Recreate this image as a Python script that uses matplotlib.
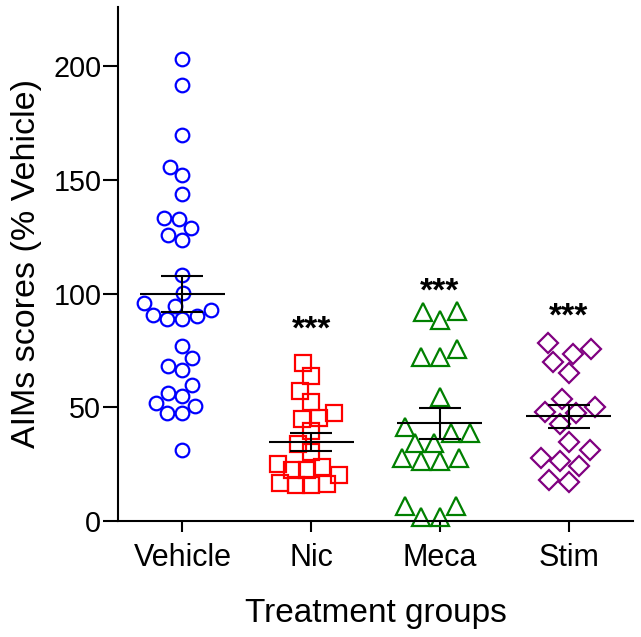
import numpy as np
import matplotlib
matplotlib.use("Agg")
import matplotlib.pyplot as plt

plt.rcParams['font.family'] = ['Liberation Sans', 'DejaVu Sans']

# values (AIMs scores, % of vehicle)
groups = ['Vehicle', 'Nic', 'Meca', 'Stim']
vehicle = [203.1, 191.6, 169.7, 155.7, 152.1, 143.6, 133.0, 133.3, 128.9, 125.7,
           123.5, 108.1, 100.1, 95.7, 94.5, 92.7, 90.1, 88.7, 88.7, 90.5,
           76.9, 71.5, 68.1, 66.4, 59.8, 56.1, 54.9, 51.7, 50.5, 47.6, 47.3, 31.2]
nic = [69.6, 63.7, 57.1, 52.4, 47.3, 45.0, 45.4, 39.6, 33.8, 30.5,
       25.1, 22.4, 23.9, 22.4, 20.2, 16.5, 15.8, 15.8, 16.2]
meca = [92.0, 88.4, 92.3, 72.0, 72.0, 75.5, 54.4, 41.5, 38.5, 38.5,
        34.4, 34.4, 27.6, 26.4, 26.4, 27.6, 6.6, 1.9, 1.9, 6.6]
stim = [75.5, 78.1, 73.3, 69.8, 64.9, 53.5, 50.0, 47.6, 48.1, 42.6,
        34.9, 31.2, 27.6, 26.4, 24.2, 18.0, 17.0]
data = [vehicle, nic, meca, stim]
signif = ['', '***', '***', '***']

# styling
colors = ['#0000ff', '#ff0000', '#008000', '#800080']
markers = ['o', 's', '^', 'D']
msizes = [9.8, 11.0, 13.5, 10.2]
spacing_px = [15.0, 15.5, 19.0, 19.5]
star_base = [None, 80.0, 97.0, 86.0]


def swarm_offsets(ax, x0, values, d):
    """Greedy beeswarm: offsets (data units) so markers keep d pixels apart"""
    pts = ax.transData.transform(np.column_stack([np.full(len(values), x0), values]))
    ys = pts[:, 1]
    px_per_unit = (ax.transData.transform([[1, 0]]) - ax.transData.transform([[0, 0]]))[0, 0]
    placed = []
    offs = np.zeros(len(values))
    for i in np.argsort(ys):
        y = ys[i]
        cands = [0.0]
        for px, py in placed:
            dy = abs(y - py)
            if dy < d:
                dx = np.sqrt(d ** 2 - dy ** 2)
                cands += [px - dx, px + dx]
        cands.sort(key=abs)
        for c in cands:
            if all((c - px) ** 2 + (y - py) ** 2 >= d ** 2 - 1e-6 for px, py in placed):
                break
        placed.append((c, y))
        offs[i] = c
    return offs / px_per_unit


fig = plt.figure(figsize=(6.41, 6.37), dpi=100)
ax = fig.add_axes([118 / 641, 116 / 637, 515 / 641, 514 / 637])
ax.set_xlim(0.5, 4.5)
ax.set_ylim(0, 226)

for i, vals in enumerate(data):
    x0 = i + 1
    vals = np.array(vals)
    xs = x0 + swarm_offsets(ax, x0, vals, spacing_px[i])
    ax.plot(xs, vals, linestyle='none', marker=markers[i], markersize=msizes[i],
            markerfacecolor='none', markeredgecolor=colors[i], markeredgewidth=1.6,
            zorder=2, clip_on=False)
    mean = vals.mean()
    sem = vals.std(ddof=1) / np.sqrt(len(vals))
    ax.hlines(mean, x0 - 0.33, x0 + 0.33, color='black', lw=1.5, zorder=3)
    ax.errorbar(x0, mean, yerr=sem, fmt='none', ecolor='black', elinewidth=1.5,
                capsize=15, capthick=1.5, zorder=3)
    if signif[i]:
        ax.text(x0, star_base[i], signif[i], ha='center', va='baseline',
                fontsize=24, fontweight='bold')

ax.spines['top'].set_visible(False)
ax.spines['right'].set_visible(False)
ax.spines['left'].set_linewidth(1.5)
ax.spines['bottom'].set_linewidth(1.5)

ax.set_yticks([0, 50, 100, 150, 200])
ax.set_xticks([1, 2, 3, 4])
ax.set_xticklabels(groups, fontsize=22)
ax.tick_params(axis='y', labelsize=20.7, length=11, width=1.5, pad=1)
ax.tick_params(axis='x', length=8, width=1.5, pad=8)

ax.set_ylabel('AIMs scores (% Vehicle)', fontsize=24.5, labelpad=8)
ax.set_xlabel('Treatment groups', fontsize=24, labelpad=18)

fig.savefig('out.png', dpi=100)
